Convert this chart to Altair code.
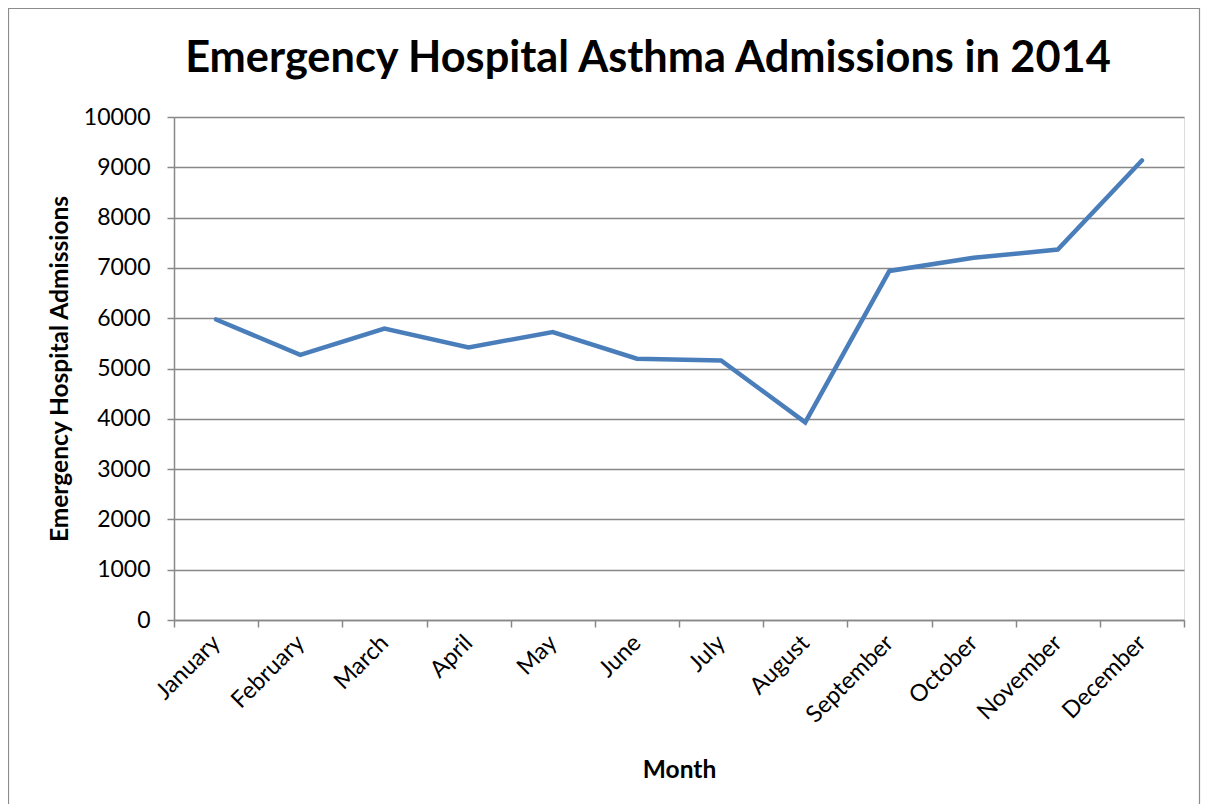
import altair as alt
import pandas as pd

months = ["January", "February", "March", "April", "May", "June", "July",
          "August", "September", "October", "November", "December"]
admissions = [5975, 5270, 5795, 5420, 5725, 5195, 5160, 3930, 6940, 7200, 7365, 9135]
y_ticks = [0, 1000, 2000, 3000, 4000, 5000, 6000, 7000, 8000, 9000, 10000]

df = pd.DataFrame({"Month": months, "Admissions": admissions})

W, H = 1010, 503
PAD = {"left": 166, "top": 109, "right": 17, "bottom": 184}
FONT = "Lato"
GRAY = "#888888"

base = alt.Chart(df)

line = base.mark_line(color="#4a7ebb", strokeWidth=4.5, strokeCap="round", strokeJoin="miter").encode(
    x=alt.X("Month:N", sort=months,
            scale=alt.Scale(paddingInner=0, paddingOuter=0),
            axis=alt.Axis(title="Month", labelAngle=-45, labelAlign="right", labelBaseline="middle",
                          tickBand="extent", tickSize=7, tickColor=GRAY, tickWidth=1.5,
                          domainColor=GRAY, domainWidth=1.5, labelPadding=12,
                          labelFont=FONT, labelFontSize=23.5, labelColor="#000000",
                          titleFont=FONT, titleFontSize=24.5, titleFontWeight="bold", titleColor="#000000",
                          titleY=150, titleBaseline="middle", grid=False)),
    y=alt.Y("Admissions:Q",
            scale=alt.Scale(domain=[0, 10000], nice=False),
            axis=alt.Axis(title="Emergency Hospital Admissions", values=y_ticks, format="d",
                          tickSize=7, tickColor=GRAY, tickWidth=1.5,
                          domainColor=GRAY, domainWidth=1.5, labelPadding=17,
                          labelFont=FONT, labelFontSize=23, labelColor="#000000",
                          titleFont=FONT, titleFontSize=24.5, titleFontWeight="bold", titleColor="#000000",
                          titleX=-114, titleY=251.5, titleBaseline="middle", titleAngle=-90,
                          grid=True, gridColor=GRAY, gridWidth=1.5)),
)

border = alt.Chart(pd.DataFrame({"a": [0]})).mark_rect(
    fill=None, stroke="#8c8c8c", strokeWidth=1.2
).encode(
    x=alt.value(-165.5), x2=alt.value(W + 15.5),
    y=alt.value(-108.5), y2=alt.value(H + 200),
)

chart = alt.layer(line, border).properties(
    width=W, height=H,
    autosize=alt.AutoSizeParams(type="none"),
    padding=PAD,
    title=alt.TitleParams("Emergency Hospital Asthma Admissions in 2014",
                          font=FONT, fontSize=43.3, fontWeight="bold", color="#000000",
                          anchor="middle", frame="group", dx=-31, offset=0, dy=107, baseline="alphabetic"),
).configure_view(stroke=None).configure(background="white")

chart.save("out.html", embed_options={"renderer": "svg", "actions": False})
